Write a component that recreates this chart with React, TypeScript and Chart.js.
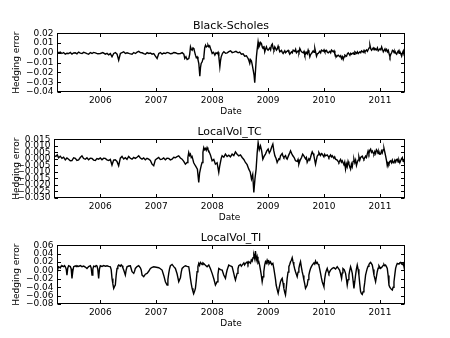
import React, { useEffect, useRef } from "react";
import { Chart, registerables } from "chart.js";

Chart.register(...registerables);

const FONT = "'DejaVu Sans', sans-serif";

// x axis: decimal years
const yearTicks = [2006, 2007, 2008, 2009, 2010, 2011];

// y tick values for each panel
const bsTicks = [-0.04, -0.03, -0.02, -0.01, 0, 0.01, 0.02];
const tcTicks = [-0.03, -0.025, -0.02, -0.015, -0.01, -0.005, 0, 0.005, 0.01, 0.015];
const tiTicks = [-0.08, -0.06, -0.04, -0.02, 0, 0.02, 0.04, 0.06];

// [decimal year, hedging error]
const blackScholes: [number, number][] = [
  [2005.212, 0.002], [2005.254, 0], [2005.284, 0.0008], [2005.313, -0.0007], [2005.343, 0.0003], [2005.373, -0.0014],
  [2005.403, -0.0004], [2005.433, -0.0007], [2005.463, 0.0004], [2005.493, -0.0014], [2005.522, -0.0002], [2005.552, 0],
  [2005.582, -0.0010], [2005.612, 0.0007], [2005.642, -0.0003], [2005.672, -0.0007], [2005.701, 0.0005], [2005.731, 0],
  [2005.761, -0.0008], [2005.791, -0.0014], [2005.821, 0.0002], [2005.851, -0.0007], [2005.88, 0.0004], [2005.91, 0],
  [2005.955, -0.0010], [2006.0, -0.0007], [2006.045, 0.0002], [2006.09, -0.0014], [2006.12, -0.0006], [2006.149, -0.002],
  [2006.179, -0.0008], [2006.209, -0.0041], [2006.239, -0.0007], [2006.269, 0.0002], [2006.299, -0.0014], [2006.328, -0.0075],
  [2006.358, -0.0007], [2006.388, 0.0002], [2006.418, 0.001], [2006.448, -0.0006], [2006.478, 0], [2006.522, -0.0008],
  [2006.567, -0.0014], [2006.597, 0.0003], [2006.627, -0.0007], [2006.657, 0.0006], [2006.687, 0.0014], [2006.716, 0.0002],
  [2006.746, 0], [2006.776, -0.0009], [2006.806, -0.0014], [2006.836, 0.0001], [2006.866, -0.0007], [2006.895, -0.0002],
  [2006.925, -0.0014], [2006.955, -0.0008], [2006.985, -0.0034], [2007.015, -0.0058], [2007.045, -0.0007], [2007.075, 0.0002],
  [2007.104, -0.0014], [2007.134, -0.0002], [2007.164, -0.0007], [2007.194, 0.0004], [2007.224, 0], [2007.254, -0.001],
  [2007.284, -0.0007], [2007.313, 0.0003], [2007.343, 0], [2007.388, -0.0010], [2007.433, -0.0007], [2007.463, 0.0001],
  [2007.493, -0.0014], [2007.51, -0.0058], [2007.531, -0.0040], [2007.552, -0.0068], [2007.582, -0.0058], [2007.597, -0.0020],
  [2007.612, 0.0061], [2007.627, 0.0035], [2007.642, 0.0027], [2007.657, 0.0050], [2007.672, 0.0044], [2007.686, 0.0010],
  [2007.701, -0.0024], [2007.716, -0.0050], [2007.731, -0.0041], [2007.746, -0.0070], [2007.761, -0.0109], [2007.779, -0.0238],
  [2007.791, -0.0150], [2007.803, -0.0109], [2007.821, -0.0092], [2007.836, -0.0060], [2007.851, -0.0041], [2007.866, 0.0050],
  [2007.881, 0.0078], [2007.895, 0.0060], [2007.91, 0.0068], [2007.925, 0.0080], [2007.94, 0.0061], [2007.955, 0.0070],
  [2007.97, 0.0044], [2007.985, 0.0020], [2008.0, -0.0007], [2008.024, 0.0005], [2008.048, -0.0024], [2008.069, 0.0000],
  [2008.09, -0.0007], [2008.105, 0.0005], [2008.119, -0.0041], [2008.137, -0.0143], [2008.149, -0.0080], [2008.161, -0.0041],
  [2008.185, -0.0005], [2008.209, 0.001], [2008.239, -0.0005], [2008.269, 0], [2008.298, 0.0012], [2008.328, 0.002],
  [2008.358, 0.0002], [2008.388, 0.0007], [2008.425, 0.0015], [2008.463, 0], [2008.492, 0.0008], [2008.522, -0.0014],
  [2008.552, -0.0010], [2008.582, -0.0034], [2008.612, -0.0030], [2008.642, -0.0058], [2008.657, -0.0080], [2008.672, -0.0109],
  [2008.686, -0.0070], [2008.701, -0.0082], [2008.716, -0.0120], [2008.731, -0.017], [2008.749, -0.0228], [2008.761, -0.0306],
  [2008.779, -0.0143], [2008.791, -0.0040], [2008.803, 0.0027], [2008.821, 0.0112], [2008.836, 0.006], [2008.851, 0.0078],
  [2008.866, 0.0105], [2008.881, 0.0095], [2008.895, 0.006], [2008.91, 0.0044], [2008.925, 0.007], [2008.94, 0.001],
  [2008.955, 0.004], [2008.97, 0.0061], [2008.985, 0.0035], [2009.0, 0.0027], [2009.03, 0.005], [2009.045, 0.003],
  [2009.06, 0.0078], [2009.075, 0.009], [2009.09, 0.0044], [2009.105, 0.003], [2009.119, 0.0061], [2009.134, 0.0045],
  [2009.149, 0.0027], [2009.164, 0.004], [2009.179, 0.0068], [2009.194, 0.004], [2009.209, 0.001], [2009.239, 0.0025],
  [2009.254, 0.0005], [2009.269, -0.0007], [2009.298, 0.002], [2009.313, 0], [2009.328, 0.001], [2009.358, 0.0025],
  [2009.373, 0.0005], [2009.388, -0.0014], [2009.418, 0.001], [2009.433, 0], [2009.448, 0.0027], [2009.478, 0.0015],
  [2009.492, 0.0035], [2009.507, 0], [2009.537, 0.002], [2009.552, 0.0005], [2009.567, 0.0044], [2009.582, 0.0025],
  [2009.597, 0.001], [2009.627, 0], [2009.642, 0.0015], [2009.657, -0.0024], [2009.686, 0.0005], [2009.701, -0.001],
  [2009.716, 0.0027], [2009.731, 0], [2009.746, -0.0041], [2009.761, -0.0015], [2009.776, -0.0007], [2009.806, 0.002],
  [2009.821, 0.0005], [2009.836, 0.0044], [2009.851, 0.0005], [2009.866, -0.0034], [2009.881, -0.001], [2009.896, -0.0007],
  [2009.925, 0.0015], [2009.94, 0], [2009.955, 0.0027], [2009.985, 0.0015], [2010.0, 0.003], [2010.015, 0.001],
  [2010.045, 0.0025], [2010.06, 0.0005], [2010.075, 0], [2010.104, 0.0015], [2010.119, 0], [2010.134, 0.0027],
  [2010.164, 0.001], [2010.179, 0.002], [2010.194, -0.0014], [2010.209, -0.0025], [2010.224, -0.0041], [2010.239, -0.003],
  [2010.254, -0.0024], [2010.284, -0.004], [2010.298, -0.003], [2010.313, -0.0058], [2010.328, -0.004], [2010.343, -0.0068],
  [2010.358, -0.004], [2010.373, -0.0024], [2010.403, -0.0035], [2010.418, -0.001], [2010.433, 0], [2010.463, -0.0025],
  [2010.478, -0.0005], [2010.493, -0.0014], [2010.522, 0], [2010.537, -0.0015], [2010.552, 0.001], [2010.582, -0.0005],
  [2010.597, 0.001], [2010.612, -0.0007], [2010.642, 0.001], [2010.657, 0], [2010.672, 0.002], [2010.701, 0.0005],
  [2010.716, 0.0025], [2010.731, 0.001], [2010.761, 0.003], [2010.776, 0.0015], [2010.791, 0.0034], [2010.806, 0.005],
  [2010.821, 0.0078], [2010.836, 0.004], [2010.851, 0.0027], [2010.88, 0.005], [2010.895, 0.003], [2010.91, 0.0044],
  [2010.94, 0.003], [2010.955, 0.005], [2010.97, 0.002], [2011.0, 0.004], [2011.015, 0.003], [2011.03, 0.0061],
  [2011.045, 0.0035], [2011.06, 0.001], [2011.09, 0.004], [2011.104, 0.002], [2011.119, 0.0034], [2011.134, 0.001],
  [2011.149, 0.0025], [2011.164, -0.001], [2011.179, -0.0041], [2011.194, -0.0015], [2011.209, 0], [2011.224, 0.0025],
  [2011.239, 0.002], [2011.254, 0], [2011.269, 0.0015], [2011.284, -0.0005], [2011.299, -0.0014], [2011.313, 0.0005],
  [2011.328, 0.002], [2011.343, -0.0005], [2011.358, 0.001], [2011.373, -0.001], [2011.388, -0.0034], [2011.403, 0],
  [2011.418, 0.002], [2011.433, -0.0025], [2011.448, -0.0041],
];

const localVolTC: [number, number][] = [
  [2005.172, 0.0025], [2005.206, 0.0018], [2005.23, 0.0030], [2005.254, 0.0008], [2005.284, 0.0020], [2005.314, 0.0003],
  [2005.344, 0.0012], [2005.374, -0.0008], [2005.403, 0.0006], [2005.433, -0.0003], [2005.463, -0.0015], [2005.493, -0.0013],
  [2005.523, 0.0008], [2005.553, 0.0003], [2005.582, -0.0012], [2005.612, -0.0008], [2005.642, 0.0010], [2005.672, 0.0023],
  [2005.702, 0.0002], [2005.732, -0.0003], [2005.761, 0.0008], [2005.791, -0.0008], [2005.821, 0.0004], [2005.851, 0.0003],
  [2005.881, -0.0010], [2005.911, -0.0013], [2005.94, 0.0002], [2005.97, -0.0003], [2006.0, 0.0006], [2006.03, -0.0008],
  [2006.06, 0.0004], [2006.089, 0.0003], [2006.119, -0.0008], [2006.149, -0.0013], [2006.179, -0.0005], [2006.209, -0.0048],
  [2006.238, -0.0010], [2006.268, -0.0008], [2006.298, -0.0020], [2006.328, -0.0053], [2006.358, 0.0005], [2006.388, 0.0018],
  [2006.418, -0.0002], [2006.447, 0.0008], [2006.477, -0.0004], [2006.507, 0.0018], [2006.537, 0.0004], [2006.567, -0.0003],
  [2006.597, 0.0010], [2006.626, 0.0003], [2006.656, 0.0012], [2006.686, 0.0023], [2006.716, 0.0006], [2006.746, -0.0003],
  [2006.776, 0.0006], [2006.805, -0.0008], [2006.835, 0.0004], [2006.865, -0.0003], [2006.895, -0.0012], [2006.925, -0.0041],
  [2006.955, -0.0053], [2006.984, -0.0008], [2007.014, 0.0002], [2007.044, 0.001], [2007.074, -0.0006], [2007.104, -0.0003],
  [2007.134, 0.0006], [2007.163, -0.0008], [2007.193, 0.0005], [2007.223, 0.0003], [2007.253, -0.0008], [2007.283, -0.0003],
  [2007.313, 0.0012], [2007.342, 0.0008], [2007.372, 0.0016], [2007.402, 0.0023], [2007.432, 0.0006], [2007.462, -0.0003],
  [2007.492, -0.0020], [2007.521, -0.0041], [2007.551, -0.0028], [2007.566, 0.0010], [2007.581, 0.0048], [2007.596, 0.0025],
  [2007.611, 0.0036], [2007.626, 0.0010], [2007.641, 0.0018], [2007.67, -0.0030], [2007.7, -0.0053], [2007.736, -0.0079],
  [2007.76, -0.018], [2007.775, -0.0110], [2007.79, -0.0079], [2007.805, -0.0050], [2007.82, -0.0028], [2007.835, 0.0050],
  [2007.85, 0.0086], [2007.865, 0.0070], [2007.879, 0.0079], [2007.894, 0.0065], [2007.909, 0.0086], [2007.924, 0.0070],
  [2007.939, 0.0061], [2007.969, 0.0030], [2007.999, -0.0015], [2008.029, -0.0005], [2008.058, -0.0041], [2008.088, -0.0030],
  [2008.118, -0.0104], [2008.133, -0.0060], [2008.148, -0.0028], [2008.163, 0.0005], [2008.178, 0.0023], [2008.208, 0.0012],
  [2008.237, 0.0036], [2008.267, 0.0018], [2008.297, 0.0028], [2008.327, 0.0015], [2008.357, 0.0036], [2008.387, 0.0025],
  [2008.416, 0.0053], [2008.446, 0.0035], [2008.476, 0.0023], [2008.506, 0.0030], [2008.536, 0.001], [2008.566, -0.0005],
  [2008.595, -0.0028], [2008.625, -0.0045], [2008.655, -0.0079], [2008.68, -0.0100], [2008.703, -0.0155], [2008.725, -0.0120],
  [2008.745, -0.0257], [2008.766, -0.0150], [2008.786, -0.0079], [2008.804, 0.0040], [2008.822, 0.0124], [2008.843, 0.007],
  [2008.864, 0.0099], [2008.885, 0.006], [2008.906, -0.0003], [2008.93, 0.002], [2008.953, 0.0036], [2008.977, 0.006],
  [2009.001, 0.0074], [2009.022, 0.0045], [2009.043, 0.0061], [2009.064, 0.009], [2009.085, 0.0112], [2009.103, 0.006],
  [2009.121, 0.0023], [2009.141, 0.0005], [2009.162, -0.0028], [2009.192, 0], [2009.207, -0.0005], [2009.222, 0.0023],
  [2009.252, 0.004], [2009.267, 0.002], [2009.282, 0.001], [2009.312, 0.0025], [2009.327, 0.0005], [2009.341, -0.0003],
  [2009.371, 0.003], [2009.386, 0.0045], [2009.401, 0.0061], [2009.422, 0.004], [2009.443, 0.0023], [2009.466, 0.001],
  [2009.49, -0.0015], [2009.52, -0.002], [2009.535, -0.0005], [2009.55, -0.0041], [2009.574, -0.001], [2009.598, 0.001],
  [2009.619, 0.0035], [2009.64, 0.0023], [2009.67, 0], [2009.685, 0.001], [2009.699, -0.0028], [2009.729, 0],
  [2009.744, -0.001], [2009.759, 0.001], [2009.774, 0.0035], [2009.789, 0.0053], [2009.804, 0.004], [2009.819, 0.0023],
  [2009.834, -0.001], [2009.848, -0.0041], [2009.878, 0.002], [2009.893, 0.003], [2009.908, 0.0048], [2009.938, 0.0025],
  [2009.953, 0.004], [2009.968, 0.0036], [2009.998, 0.0015], [2010.012, 0.0035], [2010.027, 0.0023], [2010.057, 0.003],
  [2010.072, 0.002], [2010.087, 0.001], [2010.117, 0.003], [2010.132, 0.0015], [2010.147, 0.0023], [2010.176, 0.0005],
  [2010.191, 0.0015], [2010.206, -0.0003], [2010.236, -0.001], [2010.251, -0.002], [2010.266, -0.0028], [2010.296, -0.0005],
  [2010.311, -0.0025], [2010.326, -0.0015], [2010.356, -0.0045], [2010.37, -0.0025], [2010.385, -0.0079], [2010.4, -0.004],
  [2010.415, -0.006], [2010.43, -0.002], [2010.445, -0.0041], [2010.46, -0.006], [2010.475, -0.0079], [2010.49, -0.004],
  [2010.505, -0.006], [2010.52, -0.002], [2010.535, -0.0003], [2010.55, -0.003], [2010.565, -0.001], [2010.58, -0.005],
  [2010.594, -0.0028], [2010.609, -0.001], [2010.624, 0.0015], [2010.639, -0.001], [2010.654, 0.001], [2010.684, 0.002],
  [2010.699, 0.0005], [2010.714, -0.0003], [2010.744, 0.002], [2010.759, 0.001], [2010.773, 0.0036], [2010.788, 0.006],
  [2010.803, 0.004], [2010.818, 0.0065], [2010.833, 0.0074], [2010.848, 0.005], [2010.863, 0.006], [2010.878, 0.0045],
  [2010.893, 0.0036], [2010.908, 0.0055], [2010.922, 0.004], [2010.937, 0.007], [2010.952, 0.0061], [2010.967, 0.004],
  [2010.982, 0.0055], [2010.997, 0.0035], [2011.012, 0.0036], [2011.027, 0.006], [2011.042, 0.0045], [2011.057, 0.007],
  [2011.072, 0.0079], [2011.087, 0.005], [2011.101, 0.0023], [2011.116, -0.001], [2011.131, -0.0053], [2011.146, -0.003],
  [2011.161, -0.004], [2011.176, -0.002], [2011.191, -0.0015], [2011.206, -0.003], [2011.221, -0.001], [2011.236, -0.003],
  [2011.251, -0.0028], [2011.266, -0.001], [2011.281, -0.0025], [2011.296, -0.0005], [2011.31, -0.0003], [2011.325, -0.0025],
  [2011.34, -0.001], [2011.355, -0.003], [2011.37, -0.0015], [2011.385, 0], [2011.4, 0.001], [2011.415, -0.002],
  [2011.43, -0.0005], [2011.442, -0.0041],
];

const localVolTI: [number, number][] = [
  [2005.206, 0.0008], [2005.224, -0.0111], [2005.24, 0.004], [2005.254, 0.0087], [2005.284, 0.006], [2005.299, 0.01],
  [2005.314, 0.0111], [2005.344, 0.009], [2005.359, 0.0115], [2005.374, 0.0087], [2005.39, 0.003], [2005.403, -0.0111],
  [2005.418, 0.006], [2005.433, 0.0111], [2005.463, 0.009], [2005.478, 0.004], [2005.493, -0.019], [2005.508, -0.002],
  [2005.523, 0.0087], [2005.553, 0.011], [2005.567, 0.009], [2005.582, 0.0111], [2005.612, 0.0095], [2005.642, 0.0115],
  [2005.672, 0.009], [2005.702, 0.0103], [2005.731, 0.008], [2005.761, 0.0047], [2005.791, 0.009], [2005.821, 0.0111],
  [2005.836, 0.006], [2005.851, -0.0111], [2005.866, 0.003], [2005.881, 0.0103], [2005.91, 0.009], [2005.925, 0.0115],
  [2005.94, 0.0111], [2005.955, 0.002], [2005.97, -0.019], [2005.985, 0.004], [2006.0, 0.0111], [2006.03, 0.0095],
  [2006.06, 0.0115], [2006.09, 0.01], [2006.119, 0.0111], [2006.149, 0.0095], [2006.179, 0.0087], [2006.194, 0.002],
  [2006.209, -0.019], [2006.224, -0.032], [2006.239, -0.0427], [2006.254, -0.038], [2006.268, -0.0348], [2006.283, -0.012],
  [2006.298, 0.0047], [2006.313, 0.01], [2006.328, 0.0127], [2006.358, 0.01], [2006.373, 0.013], [2006.388, 0.0111],
  [2006.403, 0.006], [2006.418, 0.0008], [2006.447, -0.0111], [2006.462, 0.001], [2006.477, 0.0087], [2006.507, 0.0105],
  [2006.537, 0.0111], [2006.552, 0.004], [2006.567, -0.0032], [2006.597, -0.0071], [2006.612, -0.002], [2006.626, 0.0047],
  [2006.656, 0.009], [2006.686, 0.0111], [2006.716, 0.0063], [2006.731, 0.001], [2006.746, -0.0111], [2006.776, -0.015],
  [2006.805, -0.009], [2006.835, -0.0071], [2006.865, -0.002], [2006.895, 0.0047], [2006.925, 0.007], [2006.955, 0.0087],
  [2007.0, 0.0075], [2007.044, 0.0063], [2007.074, 0.004], [2007.104, 0.0008], [2007.134, -0.012], [2007.163, -0.0269],
  [2007.193, -0.0348], [2007.208, -0.022], [2007.223, -0.0071], [2007.238, 0.004], [2007.253, 0.0111], [2007.283, 0.0142],
  [2007.313, 0.009], [2007.342, 0.0047], [2007.372, -0.008], [2007.402, -0.0269], [2007.417, -0.022], [2007.432, -0.0174],
  [2007.447, -0.004], [2007.462, 0.0047], [2007.492, 0.0087], [2007.521, 0.0111], [2007.551, 0.0095], [2007.581, 0.0087],
  [2007.596, -0.004], [2007.611, -0.019], [2007.626, -0.032], [2007.641, -0.0427], [2007.656, -0.05], [2007.671, -0.0546],
  [2007.686, -0.049], [2007.7, -0.0427], [2007.715, -0.025], [2007.73, -0.0032], [2007.745, 0.009], [2007.76, 0.0166],
  [2007.775, 0.012], [2007.79, 0.019], [2007.82, 0.014], [2007.835, 0.018], [2007.85, 0.0166], [2007.88, 0.012],
  [2007.909, 0.0087], [2007.939, 0.0127], [2007.969, 0.004], [2007.999, -0.0071], [2008.029, -0.02], [2008.058, -0.0348],
  [2008.088, -0.0269], [2008.103, -0.01], [2008.118, 0.0047], [2008.148, 0.002], [2008.178, 0.0008], [2008.207, -0.0111],
  [2008.237, -0.019], [2008.252, -0.008], [2008.267, 0.0008], [2008.297, 0.0127], [2008.327, 0.0105], [2008.357, 0.0087],
  [2008.386, -0.0071], [2008.401, -0.016], [2008.416, -0.0229], [2008.431, -0.015], [2008.446, -0.0071], [2008.461, 0.004],
  [2008.476, 0.0111], [2008.506, 0.014], [2008.521, 0.01], [2008.536, 0.0127], [2008.566, 0.018], [2008.58, 0.013],
  [2008.595, 0.0166], [2008.625, 0.02], [2008.64, 0.015], [2008.655, 0.0206], [2008.685, 0.017], [2008.7, 0.025],
  [2008.715, 0.0221], [2008.73, 0.03], [2008.745, 0.0364], [2008.76, 0.028], [2008.774, 0.0459], [2008.789, 0.025],
  [2008.804, 0.0324], [2008.819, 0.018], [2008.834, 0.0206], [2008.849, 0.012], [2008.864, 0.0008], [2008.879, -0.012],
  [2008.894, -0.0269], [2008.909, -0.015], [2008.923, -0.0032], [2008.938, 0.012], [2008.953, 0.0206], [2008.968, 0.017],
  [2008.983, 0.0245], [2008.998, 0.019], [2009.013, 0.0221], [2009.028, 0.017], [2009.043, 0.0206], [2009.064, 0.014],
  [2009.085, 0.0166], [2009.103, 0.004], [2009.121, -0.0111], [2009.133, -0.022], [2009.144, -0.0348], [2009.162, -0.045],
  [2009.18, -0.0546], [2009.201, -0.04], [2009.222, -0.0269], [2009.237, -0.022], [2009.252, -0.019], [2009.267, -0.03],
  [2009.282, -0.0427], [2009.297, -0.052], [2009.311, -0.0585], [2009.326, -0.04], [2009.341, -0.019], [2009.356, -0.004],
  [2009.371, 0.0087], [2009.386, 0.014], [2009.401, 0.0206], [2009.416, 0.024], [2009.431, 0.0301], [2009.446, 0.02],
  [2009.46, 0.0127], [2009.475, 0.004], [2009.49, -0.0032], [2009.505, -0.009], [2009.52, -0.015], [2009.535, -0.004],
  [2009.55, 0.0047], [2009.565, 0.014], [2009.58, 0.0206], [2009.595, 0.008], [2009.61, -0.0032], [2009.625, -0.012],
  [2009.64, -0.0229], [2009.655, -0.032], [2009.669, -0.0427], [2009.684, -0.039], [2009.699, -0.0348], [2009.714, -0.022],
  [2009.729, -0.0111], [2009.744, -0.002], [2009.759, 0.0047], [2009.774, 0.009], [2009.789, 0.0127], [2009.819, 0.018],
  [2009.834, 0.015], [2009.848, 0.0221], [2009.863, 0.017], [2009.878, 0.019], [2009.893, 0.015], [2009.908, 0.0127],
  [2009.923, 0.003], [2009.938, -0.0071], [2009.953, -0.018], [2009.968, -0.0269], [2009.983, -0.033], [2009.998, -0.0388],
  [2010.012, -0.02], [2010.027, -0.0071], [2010.042, 0.0], [2010.057, 0.0047], [2010.072, -0.002], [2010.087, -0.0071],
  [2010.102, -0.003], [2010.117, 0.0008], [2010.132, 0.003], [2010.147, 0.0047], [2010.176, 0.0065], [2010.206, 0.0032],
  [2010.221, 0.006], [2010.236, 0.0087], [2010.257, 0.005], [2010.278, 0.0008], [2010.296, -0.008], [2010.314, -0.019],
  [2010.326, -0.006], [2010.338, 0.0047], [2010.361, 0.002], [2010.385, -0.0071], [2010.4, -0.02], [2010.415, -0.0348],
  [2010.43, -0.022], [2010.445, -0.0111], [2010.46, 0.0], [2010.475, 0.0087], [2010.49, 0.002], [2010.505, -0.0071],
  [2010.52, -0.025], [2010.535, -0.0427], [2010.55, -0.027], [2010.564, -0.0111], [2010.579, 0.003], [2010.594, 0.0127],
  [2010.609, 0.003], [2010.624, -0.0111], [2010.639, -0.032], [2010.654, -0.0506], [2010.669, -0.055], [2010.684, -0.057],
  [2010.699, -0.051], [2010.714, -0.0427], [2010.729, -0.028], [2010.743, -0.0111], [2010.758, -0.003], [2010.773, 0.0047],
  [2010.788, 0.01], [2010.803, 0.0142], [2010.818, 0.017], [2010.833, 0.019], [2010.848, 0.016], [2010.863, 0.0127],
  [2010.878, 0.002], [2010.893, -0.0111], [2010.908, -0.019], [2010.922, -0.0269], [2010.937, -0.015], [2010.952, -0.0032],
  [2010.967, 0.005], [2010.982, 0.0111], [2010.997, 0.008], [2011.012, 0.0047], [2011.027, 0.007], [2011.042, 0.0087],
  [2011.057, 0.012], [2011.072, 0.0142], [2011.087, 0.011], [2011.101, 0.0127], [2011.116, 0.009], [2011.131, 0.0047],
  [2011.146, -0.012], [2011.161, -0.0348], [2011.176, -0.04], [2011.191, -0.0427], [2011.206, -0.045], [2011.221, -0.0467],
  [2011.236, -0.04], [2011.251, -0.0269], [2011.266, -0.01], [2011.28, 0.0047], [2011.295, 0.012], [2011.31, 0.0166],
  [2011.34, 0.015], [2011.355, 0.018], [2011.37, 0.019], [2011.385, 0.016], [2011.4, 0.0142], [2011.415, 0.017],
  [2011.43, 0.009], [2011.442, 0.0008],
];

type PanelCfg = {
  title: string;
  series: [number, number][];
  yTicks: number[];
  decimals: number;
  xMin: number;
  xMax: number;
  axisWidth: number;
  top: number;
};

const PANELS: PanelCfg[] = [
  { title: "Black-Scholes", series: blackScholes, yTicks: bsTicks, decimals: 2, xMin: 2005.225, xMax: 2011.448, axisWidth: 57, top: 12 },
  { title: "LocalVol_TC", series: localVolTC, yTicks: tcTicks, decimals: 3, xMin: 2005.172, xMax: 2011.448, axisWidth: 54, top: 118 },
  { title: "LocalVol_TI", series: localVolTI, yTicks: tiTicks, decimals: 2, xMin: 2005.225, xMax: 2011.448, axisWidth: 57, top: 224 },
];

const BAND_H = 106;

const framePlugin = {
  id: "mplFrame",
  afterDatasetsDraw(chart: any) {
    const { ctx, chartArea: a, scales } = chart;
    ctx.save();
    ctx.strokeStyle = "#000";
    ctx.lineWidth = 1;
    const L = Math.round(a.left) + 0.5;
    const R = Math.round(a.right) - 0.5;
    const T = Math.round(a.top) + 0.5;
    const B = Math.round(a.bottom) - 0.5;
    ctx.strokeRect(L, T, R - L, B - T);
    const len = 3.5;
    ctx.beginPath();
    scales.x.ticks.forEach((t: any) => {
      const px = Math.round(scales.x.getPixelForValue(t.value)) + 0.5;
      ctx.moveTo(px, B);
      ctx.lineTo(px, B - len);
      ctx.moveTo(px, T);
      ctx.lineTo(px, T + len);
    });
    scales.y.ticks.forEach((t: any) => {
      const py = Math.round(scales.y.getPixelForValue(t.value)) + 0.5;
      ctx.moveTo(L, py);
      ctx.lineTo(L + len, py);
      ctx.moveTo(R, py);
      ctx.lineTo(R - len, py);
    });
    ctx.stroke();
    ctx.restore();
  },
};

function fmt(v: number, d: number) {
  const s = Math.abs(v).toFixed(d);
  return v < 0 ? "\u2212" + s : s;
}

function Panel({ cfg }: { cfg: PanelCfg }) {
  const ref = useRef<HTMLCanvasElement>(null);
  useEffect(() => {
    const tickFont = { family: FONT, size: 9, lineHeight: 1.2 };
    const chart = new Chart(ref.current as HTMLCanvasElement, {
      type: "line",
      data: {
        datasets: [
          {
            data: cfg.series.map(([x, y]) => ({ x, y })),
            borderColor: "#000",
            borderWidth: 1.4,
            pointRadius: 0,
            tension: 0,
            fill: false,
          },
        ],
      },
      options: {
        responsive: false,
        animation: false,
        devicePixelRatio: 1,
        layout: { padding: { left: 0, right: 45, top: 0, bottom: 0 } },
        plugins: {
          legend: { display: false },
          tooltip: { enabled: false },
          title: {
            display: true,
            text: cfg.title,
            color: "#000",
            fullSize: false,
            font: { family: FONT, size: 11, weight: "normal", lineHeight: 1.2 },
            padding: { top: 8, bottom: 0 },
          },
        },
        scales: {
          x: {
            type: "linear",
            min: cfg.xMin,
            max: cfg.xMax,
            afterBuildTicks: (s: any) => {
              s.ticks = yearTicks.map((v) => ({ value: v }));
            },
            afterFit: (s: any) => {
              s.height = 26;
            },
            ticks: {
              callback: (v: any) => String(v),
              color: "#000",
              font: tickFont,
              padding: 3,
              maxRotation: 0,
              autoSkip: false,
            },
            grid: { display: false, drawTicks: false },
            border: { display: false },
            title: {
              display: true,
              text: "Date",
              color: "#000",
              font: tickFont,
              padding: { top: 0, bottom: 1 },
            },
          },
          y: {
            type: "linear",
            min: cfg.yTicks[0],
            max: cfg.yTicks[cfg.yTicks.length - 1],
            afterBuildTicks: (s: any) => {
              s.ticks = cfg.yTicks.map((v) => ({ value: v }));
            },
            afterFit: (s: any) => {
              s.width = cfg.axisWidth;
            },
            ticks: {
              callback: (v: any) => fmt(Number(v), cfg.decimals),
              color: "#000",
              font: tickFont,
              padding: 3.5,
              autoSkip: false,
            },
            grid: { display: false, drawTicks: false },
            border: { display: false },
            title: {
              display: true,
              text: "Hedging error",
              color: "#000",
              font: tickFont,
              padding: { top: 11, bottom: 0 },
            },
          },
        },
      },
      plugins: [framePlugin],
    } as any);
    return () => chart.destroy();
  }, [cfg]);
  return (
    <canvas
      ref={ref}
      width={450}
      height={BAND_H}
      style={{ position: "absolute", left: 0, top: cfg.top, width: 450, height: BAND_H, display: "block" }}
    />
  );
}

export default function App() {
  return (
    <div style={{ position: "fixed", left: 0, top: 0, width: 450, height: 338, background: "#fff", overflow: "hidden" }}>
      {PANELS.map((p) => (
        <Panel key={p.title} cfg={p} />
      ))}
    </div>
  );
}
